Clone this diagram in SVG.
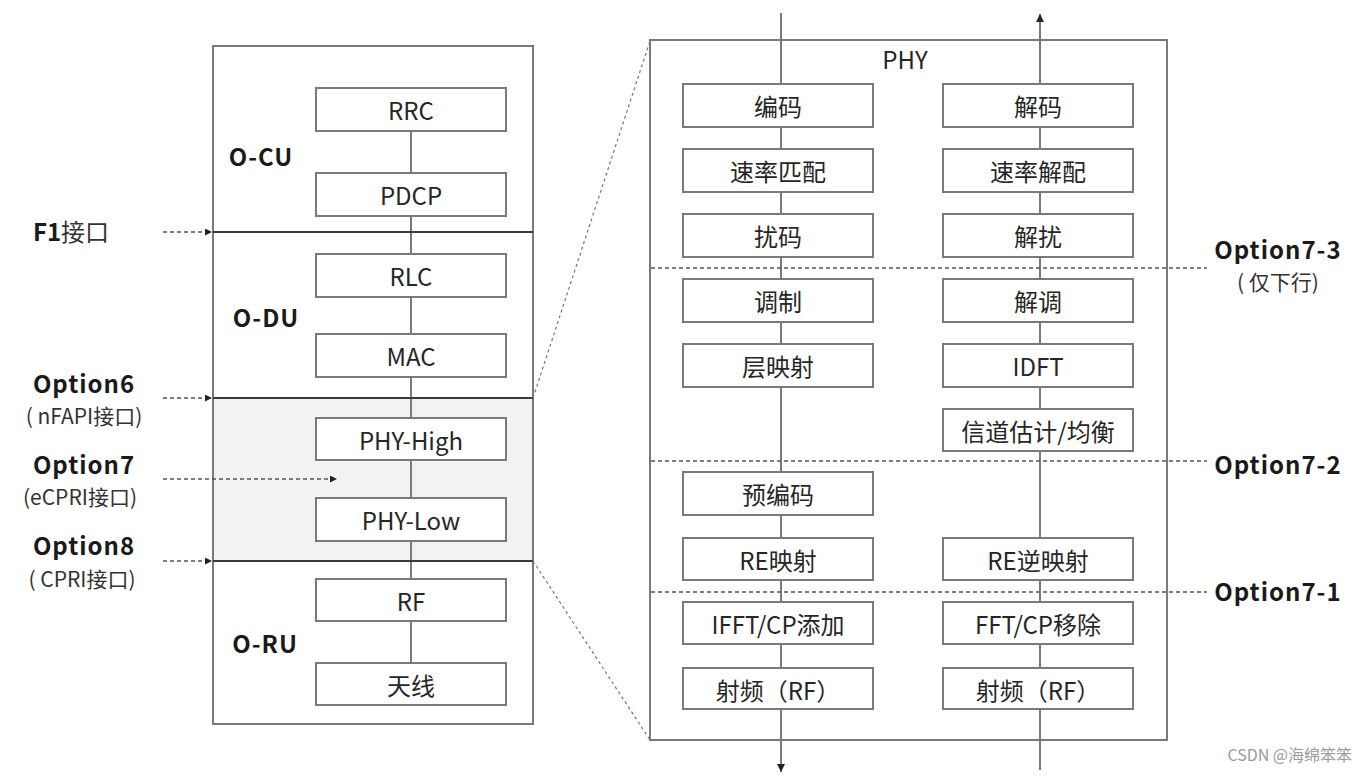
<svg xmlns="http://www.w3.org/2000/svg" width="1366" height="780" viewBox="0 0 1366 780">
<defs>
<style>
.box{fill:#fff;stroke:#7a7a7a;stroke-width:2}
.t{font-family:"Noto Sans CJK SC","Noto Sans",sans-serif;font-size:24px;fill:#262626;text-anchor:middle;dominant-baseline:central}
.lbl{font-family:"Noto Sans CJK SC","Noto Sans",sans-serif;font-size:24px;font-weight:bold;fill:#1a1a1a;text-anchor:middle;dominant-baseline:central;letter-spacing:1px}
.sub{font-family:"Noto Sans CJK SC","Noto Sans",sans-serif;font-size:21px;fill:#333;text-anchor:middle;dominant-baseline:central}
.f1{font-family:"Noto Sans CJK SC","Noto Sans",sans-serif;font-size:24px;fill:#333;text-anchor:middle;dominant-baseline:central}
.vl{stroke:#7a7a7a;stroke-width:2;fill:none}
.sep{stroke:#3a3a3a;stroke-width:2;fill:none}
.dash{stroke:#555;stroke-width:1.5;stroke-dasharray:4 3;fill:none}
.zoom{stroke:#777;stroke-width:1.2;stroke-dasharray:3 3;fill:none}
</style>
<marker id="ah" viewBox="0 0 10 10" refX="10" refY="5" markerWidth="7" markerHeight="7" orient="auto" markerUnits="userSpaceOnUse">
<path d="M0,0 L10,5 L0,10 z" fill="#222"/>
</marker>
<marker id="ah2" viewBox="0 0 10 10" refX="10" refY="5" markerWidth="8" markerHeight="8" orient="auto" markerUnits="userSpaceOnUse">
<path d="M0,0 L10,5 L0,10 z" fill="#222"/>
</marker>
</defs>
<rect width="1366" height="780" fill="#fff"/>

<g id="left-container">
<rect x="213" y="46" width="320" height="678" fill="#fff" stroke="#7a7a7a" stroke-width="2"/>
<rect x="214" y="399" width="318" height="161" fill="#f2f2f2"/>
</g>

<g id="phy-container">
<rect x="650" y="40" width="517" height="700" fill="#fff" stroke="#7a7a7a" stroke-width="2"/>
<text class="t" x="905" y="58">PHY</text>
</g>

<g id="connectors">
<line class="vl" x1="411" y1="131" x2="411" y2="663"/>
<line class="sep" x1="213" y1="232" x2="533" y2="232"/>
<line class="sep" x1="213" y1="398" x2="533" y2="398"/>
<line class="sep" x1="213" y1="561" x2="533" y2="561"/>
<line class="dash" x1="163" y1="232" x2="212" y2="232" marker-end="url(#ah)"/>
<line class="dash" x1="163" y1="398" x2="212" y2="398" marker-end="url(#ah)"/>
<line class="dash" x1="163" y1="479" x2="337" y2="479" marker-end="url(#ah)"/>
<line class="dash" x1="163" y1="561" x2="212" y2="561" marker-end="url(#ah)"/>
<line class="zoom" x1="533" y1="398" x2="650" y2="41"/>
<line class="zoom" x1="533" y1="561" x2="650" y2="740"/>
<line class="vl" x1="781" y1="13" x2="781" y2="772" marker-end="url(#ah2)"/>
<line class="vl" x1="1040" y1="770" x2="1040" y2="14" marker-end="url(#ah2)"/>
<line class="dash" x1="651" y1="268" x2="1207" y2="268"/>
<line class="dash" x1="651" y1="461" x2="1207" y2="461"/>
<line class="dash" x1="651" y1="592" x2="1207" y2="592"/>
</g>

<g id="rrc"><rect class="box" x="316" y="88" width="190" height="43"/><text class="t" x="411" y="109">RRC</text></g>
<g id="pdcp"><rect class="box" x="316" y="173" width="190" height="43"/><text class="t" x="411" y="194">PDCP</text></g>
<g id="rlc"><rect class="box" x="316" y="254" width="190" height="43"/><text class="t" x="411" y="275">RLC</text></g>
<g id="mac"><rect class="box" x="316" y="334" width="190" height="43"/><text class="t" x="411" y="355">MAC</text></g>
<g id="phy-high"><rect class="box" x="316" y="418" width="190" height="42"/><text class="t" x="411" y="439">PHY-High</text></g>
<g id="phy-low"><rect class="box" x="316" y="498" width="190" height="43"/><text class="t" x="411" y="519">PHY-Low</text></g>
<g id="rf"><rect class="box" x="316" y="579" width="190" height="42"/><text class="t" x="411" y="600">RF</text></g>
<g id="antenna"><rect class="box" x="316" y="663" width="190" height="42"/><text class="t" x="411" y="684">天线</text></g>

<g id="labels-left">
<text class="lbl" x="261" y="155">O-CU</text>
<text class="lbl" x="266" y="316">O-DU</text>
<text class="lbl" x="265" y="642">O-RU</text>
<text class="f1" x="71" y="230"><tspan font-weight="bold" fill="#1a1a1a">F1</tspan>接口</text>
<text class="lbl" x="84" y="382">Option6</text>
<text class="sub" x="84" y="415">( nFAPI接口)</text>
<text class="lbl" x="84" y="463">Option7</text>
<text class="sub" x="80" y="496">(eCPRI接口)</text>
<text class="lbl" x="84" y="544">Option8</text>
<text class="sub" x="82" y="578">( CPRI接口)</text>
</g>

<g id="enc"><rect class="box" x="683" y="84" width="190" height="43"/><text class="t" x="778" y="105">编码</text></g>
<g id="ratematch"><rect class="box" x="683" y="149" width="190" height="43"/><text class="t" x="778" y="170">速率匹配</text></g>
<g id="scramble"><rect class="box" x="683" y="214" width="190" height="43"/><text class="t" x="778" y="235">扰码</text></g>
<g id="mod"><rect class="box" x="683" y="279" width="190" height="43"/><text class="t" x="778" y="300">调制</text></g>
<g id="layermap"><rect class="box" x="683" y="344" width="190" height="43"/><text class="t" x="778" y="365">层映射</text></g>
<g id="precode"><rect class="box" x="683" y="472" width="190" height="43"/><text class="t" x="778" y="493">预编码</text></g>
<g id="remap"><rect class="box" x="683" y="538" width="190" height="42"/><text class="t" x="778" y="559">RE映射</text></g>
<g id="ifft"><rect class="box" x="683" y="602" width="190" height="42"/><text class="t" x="778" y="623">IFFT/CP添加</text></g>
<g id="rf-tx"><rect class="box" x="683" y="668" width="190" height="41"/><text class="t" x="778" y="689">射频（RF）</text></g>

<g id="dec"><rect class="box" x="943" y="84" width="190" height="43"/><text class="t" x="1038" y="105">解码</text></g>
<g id="ratedematch"><rect class="box" x="943" y="149" width="190" height="43"/><text class="t" x="1038" y="170">速率解配</text></g>
<g id="descramble"><rect class="box" x="943" y="214" width="190" height="43"/><text class="t" x="1038" y="235">解扰</text></g>
<g id="demod"><rect class="box" x="943" y="279" width="190" height="43"/><text class="t" x="1038" y="300">解调</text></g>
<g id="idft"><rect class="box" x="943" y="344" width="190" height="43"/><text class="t" x="1038" y="365">IDFT</text></g>
<g id="chest"><rect class="box" x="943" y="409" width="190" height="42"/><text class="t" x="1038" y="430">信道估计/均衡</text></g>
<g id="redemap"><rect class="box" x="943" y="538" width="190" height="42"/><text class="t" x="1038" y="559">RE逆映射</text></g>
<g id="fft"><rect class="box" x="943" y="602" width="190" height="42"/><text class="t" x="1038" y="623">FFT/CP移除</text></g>
<g id="rf-rx"><rect class="box" x="943" y="668" width="190" height="41"/><text class="t" x="1038" y="689">射频（RF）</text></g>

<g id="labels-right">
<text class="lbl" x="1278" y="248">Option7-3</text>
<text class="sub" x="1278" y="281">( 仅下行)</text>
<text class="lbl" x="1278" y="463">Option7-2</text>
<text class="lbl" x="1278" y="590">Option7-1</text>
</g>

<text x="1352" y="761" font-family="'Noto Sans CJK SC','Noto Sans',sans-serif" font-size="16" fill="#9a9a9a" text-anchor="end">CSDN @海绵笨笨</text>
</svg>
